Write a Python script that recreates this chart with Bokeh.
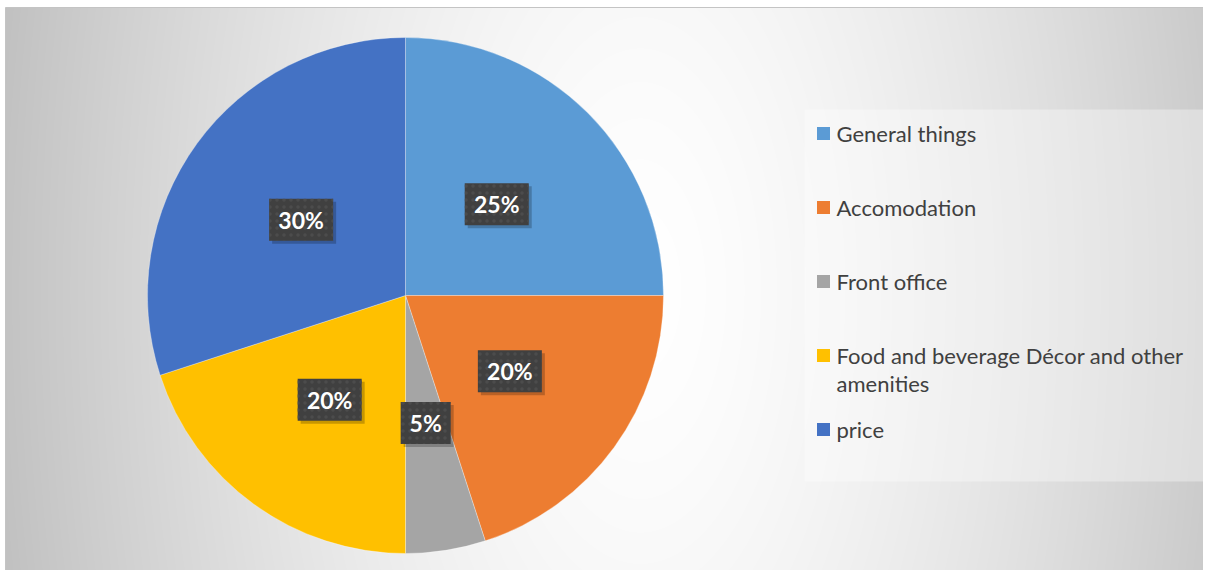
import math
import textwrap
import numpy as np
from bokeh.plotting import figure
from bokeh.models import Range1d, ColumnDataSource
from bokeh.core.properties import value
from bokeh.embed import file_html
from bokeh.resources import INLINE

# ---- data ----
categories = ["General things", "Accomodation", "Front office",
              "Food and beverage Décor and other amenities", "price"]
values = [25, 20, 5, 20, 30]
colors = ["#5B9BD5", "#ED7D31", "#A5A5A5", "#FFC000", "#4472C4"]

W, H = 1203, 570
p = figure(width=W, height=H, x_range=Range1d(0, W), y_range=Range1d(0, H),
           output_backend="svg", toolbar_location=None,
           x_axis_location=None, y_axis_location=None, min_border=0)
p.grid.visible = False
p.outline_line_color = None
p.background_fill_color = "white"
p.border_fill_color = "white"

# ---- background radial gradient (chart area from x=5, top at y=563) ----
X0, TOP = 5, 563
gw, gh = W - X0, TOP
yy, xx = np.mgrid[0:gh, 0:gw] + 0.5
xx = xx + X0
f = np.sqrt(((xx - 640) / 600.0) ** 2 + ((yy - 280) / 1200.0) ** 2)
b = np.clip(255 - 55 * f ** 1.5, 188, 255).astype(np.uint32)
img = (np.uint32(255) << 24) | (b << 16) | (b << 8) | b
p.image_rgba(image=[img], x=X0, y=0, dw=gw, dh=gh)
p.line(x=[X0, X0, W], y=[0, TOP, TOP], line_color="#c4c4c4", line_width=1)

# ---- pie ----
cx, cy, R = 405, 275, 258
total = float(sum(values))
cum = np.concatenate([[0], np.cumsum(values)]) / total
starts = [math.pi / 2 - 2 * math.pi * c for c in cum[:-1]]
ends = [math.pi / 2 - 2 * math.pi * c for c in cum[1:]]
pie_src = ColumnDataSource(dict(start=starts, end=ends, color=colors))
p.wedge(x=cx, y=cy, radius=R, start_angle="start", end_angle="end",
        direction="clock", fill_color="color", line_color="white",
        line_width=0.6, line_alpha=0.5, source=pie_src)

# ---- data labels ----
mids = [(cum[i] + cum[i + 1]) / 2 * 2 * math.pi for i in range(len(values))]
rl = 0.5 * R
lx = [cx + rl * math.sin(t) for t in mids]
ly = [cy + rl * math.cos(t) for t in mids]
ltxt = [f"{v}%" for v in values]
lw = [14 * len(t) + 22 for t in ltxt]
lab_src = ColumnDataSource(dict(x=lx, y=ly, t=ltxt, w=lw,
                                xs=[x + 3 for x in lx], ys=[y - 3 for y in ly]))
p.rect(x="xs", y="ys", width="w", height=42, width_units="screen",
       height_units="screen", fill_color="black", fill_alpha=0.22,
       line_color=None, source=lab_src)
p.rect(x="x", y="y", width="w", height=42, width_units="screen",
       height_units="screen", fill_color="#404040", line_color=None,
       hatch_pattern="dot", hatch_color="#4c4c4c", hatch_scale=7,
       hatch_weight=1.5, source=lab_src)
p.text(x="x", y="y", text="t", text_font=value("Lato"), text_font_size="23px",
       text_font_style="bold", text_color="white", text_align="center",
       text_baseline="middle", source=lab_src)

# ---- legend ----
p.quad(left=804, right=1203, bottom=89, top=461, fill_color="white",
       fill_alpha=0.35, line_color=None)
top_y, step = 437, 74
sq_y = [top_y - i * step for i in range(len(categories))]
p.rect(x=[823] * len(categories), y=sq_y, width=13, height=13,
       width_units="screen", height_units="screen", fill_color=colors,
       line_color=None)
tx, ty, tt = [], [], []
for i, c in enumerate(categories):
    for k, line in enumerate(textwrap.wrap(c, 34)):
        tx.append(836)
        ty.append(sq_y[i] - 28 * k)
        tt.append(line)
p.text(x=tx, y=ty, text=tt, text_font=value("Lato"), text_font_size="22px",
       text_color="#404040", text_align="left", text_baseline="middle")

open("out.html", "w").write(file_html(p, INLINE))
